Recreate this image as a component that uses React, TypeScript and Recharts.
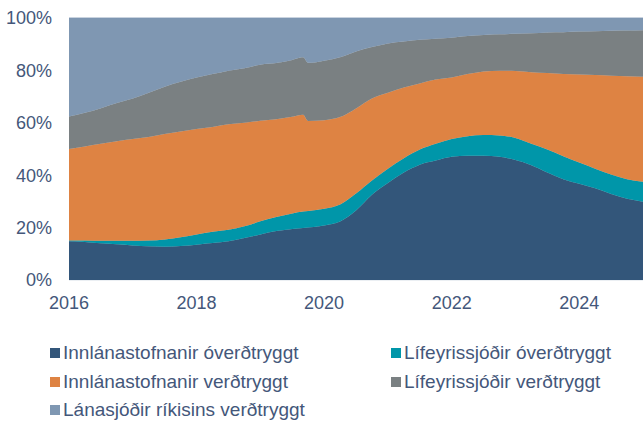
import { AreaChart, Area, XAxis, YAxis, CartesianGrid } from 'recharts';

// decimal years (quarterly, plus the short dip in late 2019)
const dates = [
  2016.0, 2016.25, 2016.5, 2016.75, 2017.0, 2017.25, 2017.5, 2017.75,
  2018.0, 2018.25, 2018.5, 2018.75, 2019.0, 2019.25, 2019.5, 2019.67,
  2019.75, 2020.0, 2020.25, 2020.5, 2020.75, 2021.0, 2021.25, 2021.5,
  2021.75, 2022.0, 2022.25, 2022.5, 2022.75, 2023.0, 2023.25, 2023.5,
  2023.75, 2024.0, 2024.25, 2024.5, 2024.75, 2025.0,
];

// shares in %
const bankUnindexed = [
  14.8, 14.5, 14.0, 13.6, 13.2, 12.9, 12.7, 13.0, 13.5, 14.1, 14.8, 16.0,
  17.4, 18.7, 19.5, 19.8, 20.0, 20.8, 22.3, 26.5, 32.5, 37.0, 41.0, 44.0,
  45.6, 47.0, 47.4, 47.4, 47.0, 45.8, 43.8, 41.0, 38.5, 36.7, 35.0, 32.8,
  31.0, 29.9,
];
const pensionUnindexed = [
  0.3, 0.6, 1.0, 1.4, 1.8, 2.2, 2.8, 3.3, 3.9, 4.3, 4.4, 4.5,
  5.0, 5.3, 5.9, 6.3, 6.3, 6.4, 6.5, 6.5, 5.5, 5.5, 5.5, 5.8,
  6.4, 6.8, 7.5, 7.9, 8.2, 8.4, 8.2, 8.8, 8.7, 8.1, 7.5, 7.5,
  7.5, 7.6,
];
const bankIndexed = [
  34.9, 35.9, 37.0, 38.0, 38.8, 39.5, 40.2, 40.4, 40.2, 40.0, 40.2, 39.5,
  38.4, 37.4, 36.9, 37.0, 34.4, 33.8, 33.4, 32.5, 31.3, 29.0, 27.0, 25.2,
  24.5, 23.5, 23.7, 24.3, 24.7, 25.6, 27.3, 29.2, 31.4, 33.6, 35.7, 37.7,
  39.3, 40.1,
];
const pensionIndexed = [
  12.4, 12.8, 13.6, 14.6, 15.5, 16.9, 18.1, 19.0, 19.7, 20.2, 20.5, 20.8,
  21.4, 21.4, 21.7, 21.9, 22.2, 22.7, 22.8, 21.7, 19.6, 18.8, 17.5, 16.7,
  15.6, 15.2, 14.5, 13.9, 13.9, 14.2, 14.9, 15.5, 16.0, 16.4, 16.7, 17.1,
  17.4, 17.7,
];
const stateFundIndexed = [
  37.6, 36.2, 34.4, 32.4, 30.7, 28.5, 26.2, 24.3, 22.7, 21.4, 20.1, 19.2,
  17.8, 17.2, 16.0, 15.0, 17.1, 16.3, 15.0, 12.8, 11.1, 9.7, 9.0, 8.3,
  7.9, 7.5, 6.9, 6.5, 6.2, 6.0, 5.8, 5.5, 5.4, 5.2, 5.1, 4.9,
  4.8, 4.7,
];

const xTicks = [2016, 2018, 2020, 2022, 2024];
const yTicks = [0, 20, 40, 60, 80, 100];

const series = [
  { key: 'bankUnindexed', name: 'Innlánastofnanir óverðtryggt', color: '#33567a' },
  { key: 'pensionUnindexed', name: 'Lífeyrissjóðir óverðtryggt', color: '#0096a9' },
  { key: 'bankIndexed', name: 'Innlánastofnanir verðtryggt', color: '#de8343' },
  { key: 'pensionIndexed', name: 'Lífeyrissjóðir verðtryggt', color: '#7a8082' },
  { key: 'stateFundIndexed', name: 'Lánasjóðir ríkisins verðtryggt', color: '#7f97b2' },
];

const data = dates.map((d, i) => ({
  date: d,
  bankUnindexed: bankUnindexed[i],
  pensionUnindexed: pensionUnindexed[i],
  bankIndexed: bankIndexed[i],
  pensionIndexed: pensionIndexed[i],
  stateFundIndexed: stateFundIndexed[i],
}));

const textColor = '#44577a';
const font = 'Arial, "Liberation Sans", sans-serif';

const LegendBox = () => (
  <div
    style={{
      position: 'absolute',
      left: 50,
      top: 342,
      display: 'grid',
      gridTemplateColumns: '341px 250px',
      rowGap: 6,
      fontFamily: font,
      fontSize: 19,
      color: textColor,
      lineHeight: '22.5px',
    }}
  >
    {series.map((s) => (
      <div key={s.key} style={{ display: 'flex', alignItems: 'center', whiteSpace: 'nowrap' }}>
        <span style={{ width: 10, height: 10, background: s.color, marginRight: 3, display: 'inline-block' }} />
        {s.name}
      </div>
    ))}
  </div>
);

export default function App() {
  return (
    <div style={{ position: 'absolute', left: 0, top: 0, width: 643, height: 421, background: '#fff' }}>
      <AreaChart
        width={643}
        height={421}
        data={data}
        margin={{ top: 18, right: 0, left: 0, bottom: 0 }}
      >
        <CartesianGrid vertical={false} stroke="#d8dfe8" />
        <XAxis
          dataKey="date"
          type="number"
          domain={[2016, 2025]}
          ticks={xTicks}
          axisLine={false}
          tickLine={false}
          tickSize={0}
          tickMargin={16}
          height={141}
          tick={{ fill: textColor, fontSize: 18, fontFamily: font }}
        />
        <YAxis
          type="number"
          domain={[0, 100]}
          ticks={yTicks}
          width={69}
          axisLine={false}
          tickLine={false}
          tickSize={0}
          tickMargin={17}
          tickFormatter={(v) => `${v}%`}
          tick={{ fill: textColor, fontSize: 18, fontFamily: font }}
        />
        {series.map((s) => (
          <Area
            key={s.key}
            dataKey={s.key}
            name={s.name}
            stackId="1"
            type="monotone"
            fill={s.color}
            fillOpacity={1}
            stroke={s.color}
            strokeWidth={0.5}
            isAnimationActive={false}
          />
        ))}
      </AreaChart>
      <LegendBox />
    </div>
  );
}
